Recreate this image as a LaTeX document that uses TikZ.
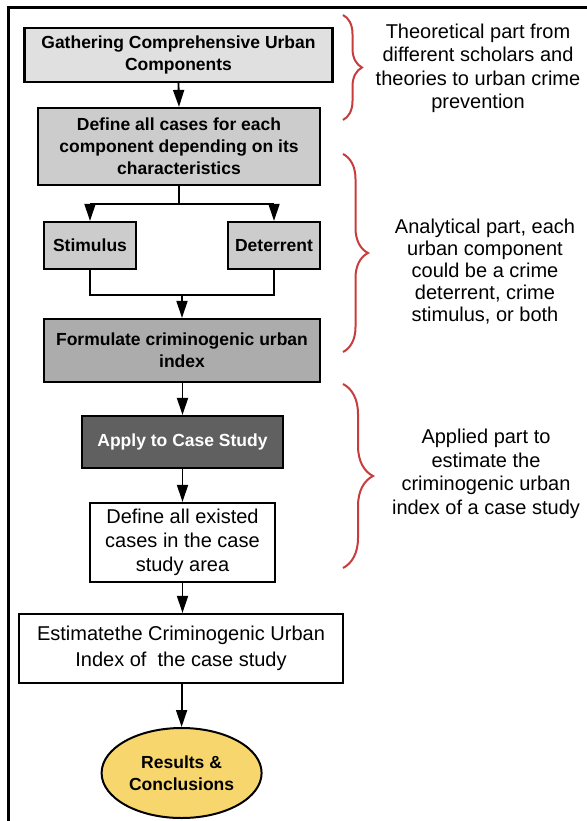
\documentclass[tikz,border=0pt]{standalone}
\usepackage{fontspec}
\setmainfont{Liberation Sans}
\usetikzlibrary{arrows.meta,shapes.geometric,decorations.pathreplacing}
\definecolor{gA}{RGB}{224,224,224}
\definecolor{gB}{RGB}{204,204,204}
\definecolor{gC}{RGB}{172,172,172}
\definecolor{gD}{RGB}{96,96,96}
\definecolor{ylw}{RGB}{248,214,110}
\definecolor{brred}{RGB}{200,60,60}
\tikzset{
  box/.style={draw=black, line width=2.2pt, rectangle, align=center, inner sep=2pt},
  bt/.style={font=\fontsize{17.5}{22}\selectfont\bfseries},
  nt/.style={font=\fontsize{20}{24}\selectfont},
  arr/.style={line width=1.8pt, -{Triangle[length=17pt,width=11pt]}},
  ln/.style={line width=1.8pt},
  brc/.style={draw=brred, line width=2pt, decorate, decoration={brace, amplitude=#1}},
  side/.style={align=center, font=\fontsize{20}{23.5}\selectfont}
}
\begin{document}
\begin{tikzpicture}[x=1pt,y=-1pt]
\useasboundingbox (0,0) rectangle (586,821);
\draw[line width=3pt] (8,840) -- (8,8) -- (600,8);

\node[box, bt, fill=gA, minimum width=308pt, minimum height=54pt] (b1) at (178.5,55) {Gathering Comprehensive Urban\\Components};
\node[box, bt, fill=gB, minimum width=282pt, minimum height=77pt] (b2) at (179,146.5) {Define all cases for each\\component depending on its\\characteristics};
\node[box, bt, fill=gB, minimum width=92pt, minimum height=47pt] (st) at (90,245.5) {Stimulus};
\node[box, bt, fill=gB, minimum width=92pt, minimum height=47pt] (de) at (274,245.5) {Deterrent};
\node[box, bt, fill=gC, minimum width=276pt, minimum height=63pt] (fo) at (182,350.5) {Formulate criminogenic urban\\index};
\node[box, bt, fill=gD, text=white, minimum width=201pt, minimum height=52pt] (ap) at (182.5,442) {Apply to Case Study};
\node[box, nt, fill=white, minimum width=185pt, minimum height=79pt] (dx) at (182.5,542.5) {Define all existed\\cases in the case\\study area};
\node[box, nt, fill=white, minimum width=324pt, minimum height=69pt, font=\fontsize{20}{26}\selectfont] (es) at (181,648.5) {Estimatethe Criminogenic Urban\\Index of~~the case study};
\node[ellipse, draw=black, line width=2pt, fill=ylw, bt, align=center, minimum width=160pt, minimum height=90pt, inner sep=0pt] (re) at (181.6,773) {Results \&\\Conclusions};

\coordinate (s1) at (179,204);
\coordinate (sl) at (90,204);
\coordinate (sr) at (274,204);
\coordinate (ml) at (90,295);
\coordinate (mr) at (274,295);
\coordinate (mc) at (182,295);

\draw[arr] (b1.south) -- (b2.north);
\draw[ln] (b2.south) -- (s1);
\draw[ln] (sl) -- (sr);
\draw[arr] (sl) -- (st.north);
\draw[arr] (sr) -- (de.north);
\draw[ln] (st.south) -- (ml) -- (mr) -- (de.south);
\draw[arr] (mc) -- (fo.north);
\draw[arr] (fo.south -| ap.north) -- (ap.north);
\draw[arr] (ap.south) -- (dx.north);
\draw[arr] (dx.south) -- (dx.south |- es.north);
\draw[arr] (es.south -| re.north) -- (re.north);

\coordinate (br1a) at (343,15);
\coordinate (br1b) at (343,120);
\coordinate (br2a) at (343,154);
\coordinate (br2b) at (343,352);
\coordinate (br3a) at (343,384);
\coordinate (br3b) at (343,568);
\draw[brc=19pt] (br1a) -- (br1b);
\draw[brc=25pt] (br2a) -- (br2b);
\draw[brc=30pt] (br3a) -- (br3b);

\node[side] (t1) at (478,68.5) {Theoretical part from\\different scholars and\\theories to urban crime\\prevention};
\node[side, font=\fontsize{20}{22}\selectfont] (t2) at (485,271.5) {Analytical part, each\\urban component\\could be a crime\\deterrent, crime\\stimulus, or both};
\node[side] (t3) at (486,474) {Applied part to\\estimate the\\criminogenic urban\\index of a case study};
\end{tikzpicture}
\end{document}
